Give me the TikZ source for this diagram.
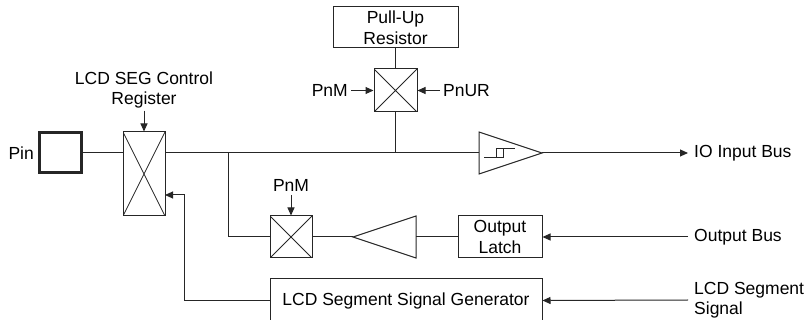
\documentclass[tikz,border=0pt]{standalone}
\usepackage{fontspec}
\setmainfont{Liberation Sans}
\usetikzlibrary{arrows.meta}
\begin{document}
\begin{tikzpicture}[x=1pt,y=-1pt,
  every node/.style={font=\fontsize{17.5}{20.5}\selectfont},
  line/.style={line width=1pt,draw=black!85},
  arr/.style={line width=1pt,draw=black!85,-{Triangle[length=8pt,width=7pt]}},
  box/.style={draw=black!85,line width=1pt,rectangle,inner sep=0pt,align=center},
  swbox/.style={box,path picture={\draw[line width=0.8pt,black!85]
     (path picture bounding box.north west) -- (path picture bounding box.south east)
     (path picture bounding box.south west) -- (path picture bounding box.north east);}},
  lbl/.style={inner sep=0pt,align=center},
  rlbl/.style={inner sep=0pt,inner xsep=6pt,align=left}
]
\useasboundingbox (0,0) rectangle (809,320);

% blocks
\node[box,line width=3pt,minimum width=42pt,minimum height=40pt] (pin) at (60,153) {};
\node[swbox,minimum width=42pt,minimum height=84pt] (seg) at (144,174) {};
\node[box,minimum width=125pt,minimum height=41pt] (pu) at (395.5,27.5) {Pull-Up\\Resistor};
\node[swbox,minimum width=43pt,minimum height=43pt] (pusw) at (395.5,90.5) {};
\node[swbox,minimum width=42pt,minimum height=42pt] (lsw) at (291,237) {};
\node[box,minimum width=84pt,minimum height=42pt] (latch) at (500,237) {Output\\Latch};
\node[box,minimum width=272pt,minimum height=43pt] (gen) at (406,300.5) {LCD Segment Signal Generator};

% Schmitt buffer
\coordinate (schin) at (479,153);
\coordinate (schout) at (542,153);
\draw[line] (479,132) -- (schout) -- (479,174) -- cycle;
\draw[line] (484,158) -- (503,158) (496,158) -- (496,149) (496,149) -- (515,149) (503,149) -- (503,158);

% output buffer (pointing left)
\coordinate (obin) at (416,237);
\coordinate (obout) at (353,237);
\draw[line] (416,216) -- (obout) -- (416,258) -- cycle;

% labels
\node[lbl,anchor=east] (pinl) at (34,153) {Pin};
\node[lbl,inner ysep=2pt] (lcdc) at (144,90) {LCD SEG Control\\Register};
\node[lbl,anchor=east,inner xsep=3pt] (pnm1) at (351,90.5) {PnM};
\node[lbl,anchor=west,inner xsep=3pt] (pnur) at (440,90.5) {PnUR};
\node[lbl,anchor=south,inner ysep=3pt] (pnm2) at (291,195) {PnM};
\node[rlbl,anchor=west] (io) at (688,153) {IO Input Bus};
\node[rlbl,anchor=west] (ob) at (688,237) {Output Bus};
\node[rlbl,anchor=west] (lss) at (688,300) {LCD Segment\\Signal};

% connectors
\coordinate (br) at (228,153);
\coordinate (segin) at (165,195);
\draw[line] (pin.east) -- (pin.east -| seg.west);
\draw[line] (pin.east -| seg.east) -- (schin);
\draw[line] (br) |- (lsw.west);
\draw[line] (pu.south) -- (pusw.north);
\draw[line] (pusw.south) -- (pusw.south |- schin);
\draw[arr] (schout) -- (io.west);
\draw[arr] (ob.west) -- (latch.east);
\draw[arr] (lss.west) -- (gen.east);
\draw[line] (latch.west) -- (obin);
\draw[line] (obout) -- (lsw.east);
\draw[arr] (gen.west) -- ++(-85,0) |- (segin);
\draw[arr] (lcdc.south) -- (seg.north);
\draw[arr] (pnm1.east) -- (pusw.west);
\draw[arr] (pnur.west) -- (pusw.east);
\draw[arr] (pnm2.south) -- (lsw.north);
\end{tikzpicture}
\end{document}
